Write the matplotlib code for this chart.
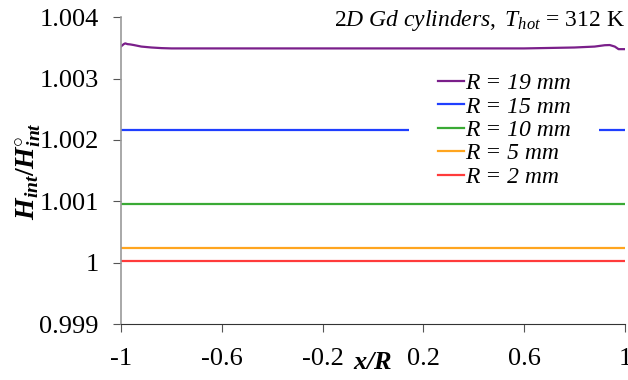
import matplotlib.pyplot as plt
from matplotlib.patches import Rectangle

plt.rcParams['font.family'] = 'Liberation Serif'
plt.rcParams['mathtext.fontset'] = 'custom'
plt.rcParams['mathtext.rm'] = 'Liberation Serif'
plt.rcParams['mathtext.it'] = 'Liberation Serif:italic'
plt.rcParams['mathtext.bf'] = 'Liberation Serif:bold'
plt.rcParams['mathtext.bfit'] = 'Liberation Serif:bold:italic'

# R = 19 mm profile (small wiggles near the ends)
x19 = [-1.0, -0.99, -0.984, -0.975, -0.964, -0.95, -0.92, -0.88, -0.84, -0.8,
       0.6, 0.8, 0.88, 0.92, 0.94, 0.96, 0.975, 1.0]
h19 = [1.003525, 1.00356, 1.003572, 1.00356, 1.003555, 1.003545, 1.00352,
       1.003505, 1.003495, 1.00349, 1.00349, 1.003505, 1.00352, 1.003542,
       1.003545, 1.00352, 1.003478, 1.003478]

# other radii are flat
x_flat = [-1.0, 1.0]
h15 = [1.00216, 1.00216]
h10 = [1.000954, 1.000954]
h5 = [1.000238, 1.000238]
h2 = [1.00003, 1.00003]

labels = ["R = 19 mm", "R = 15 mm", "R = 10 mm", "R = 5 mm", "R = 2 mm"]
colors = ["#7a1f8a", "#1f3fff", "#3aaa35", "#ffa51f", "#ff3b3b"]

fig = plt.figure(figsize=(6.28, 3.8), dpi=100)
ax = fig.add_axes([0.193, 0.147, 0.802, 0.808])

ax.plot(x19, h19, color=colors[0], lw=1.6, label=labels[0])
ax.plot(x_flat, h15, color=colors[1], lw=1.6, label=labels[1])
ax.plot(x_flat, h10, color=colors[2], lw=1.6, label=labels[2])
ax.plot(x_flat, h5, color=colors[3], lw=1.6, label=labels[3])
ax.plot(x_flat, h2, color=colors[4], lw=1.6, label=labels[4])

# white legend area (as in the original, it hides part of the 15 mm line)
ax.add_patch(Rectangle((0.571, 0.436), 0.377, 0.39, transform=ax.transAxes,
                       facecolor='white', edgecolor='none', zorder=2.5))

ax.set_xlim(-1, 1)
ax.set_ylim(0.999, 1.004)
ax.set_xticks([-1, -0.6, -0.2, 0.2, 0.6, 1])
ax.set_xticklabels(["-1", "-0.6", "-0.2", "0.2", "0.6", "1"])
ax.set_yticks([0.999, 1.0, 1.001, 1.002, 1.003, 1.004])
ax.set_yticklabels(["0.999", "1", "1.001", "1.002", "1.003", "1.004"])
ax.tick_params(axis='both', labelsize=19, direction='out', length=6, width=0.8,
               color='#555555')
ax.tick_params(axis='x', pad=11)
ax.tick_params(axis='y', pad=10)

ax.spines['top'].set_visible(False)
ax.spines['right'].set_visible(False)
ax.spines['left'].set_color('#999999')
ax.spines['left'].set_linewidth(1.2)
ax.spines['bottom'].set_color('#333333')

ax.set_xlabel(r"$\mathbfit{x/R}$", fontsize=19)
ax.xaxis.set_label_coords(0.5, -0.09)
ax.set_ylabel(r"$\mathbfit{H}_{\mathbfit{int}}\mathbf{/}\mathbfit{H}_{\mathbfit{int}}^{\mathbf{\circ}}$",
              fontsize=20)
ax.yaxis.set_label_coords(-0.155, 0.5)

ax.text(0.999, 1.03, r"$\mathit{2D\ Gd\ cylinders,\ T_{hot}}$ = 312 K",
        transform=ax.transAxes, ha='right', va='top', fontsize=17)

leg = ax.legend(loc='upper left', bbox_to_anchor=(0.6, 0.865), frameon=False,
                prop={'family': 'Liberation Serif', 'style': 'italic', 'size': 17},
                handlelength=1.1, handletextpad=0.08, labelspacing=0.08,
                borderpad=0.1)

fig.savefig("out.png", dpi=100)
